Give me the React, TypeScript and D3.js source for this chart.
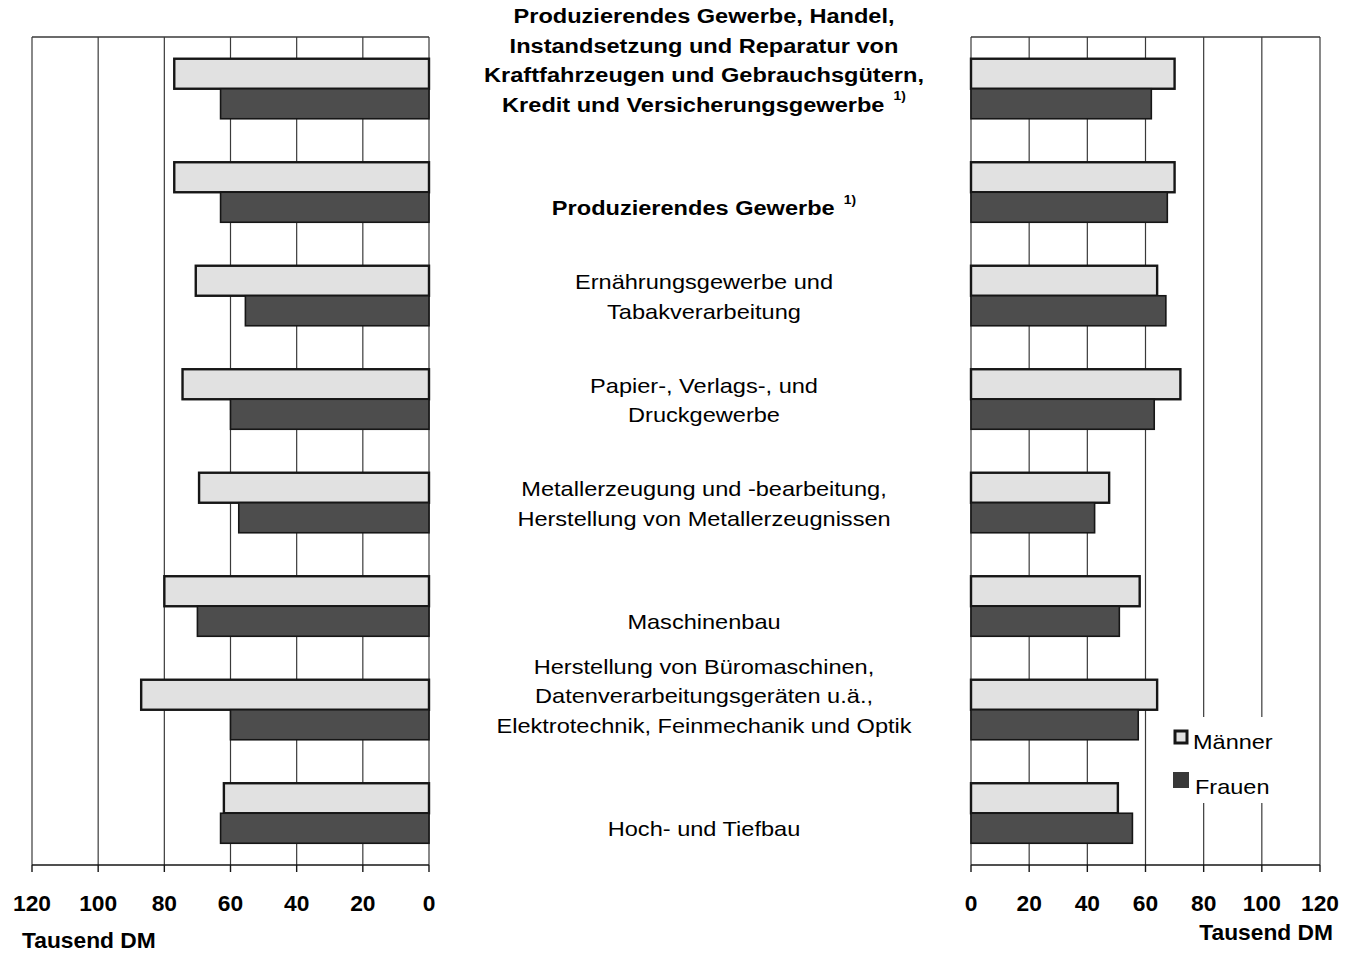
import * as d3 from 'd3';

// Category labels (centre column), one entry per bar group
const categories: string[][] = [
  [
    'Produzierendes Gewerbe, Handel,',
    'Instandsetzung und Reparatur von',
    'Kraftfahrzeugen und Gebrauchsgütern,',
    'Kredit und Versicherungsgewerbe',
  ],
  ['Produzierendes Gewerbe'],
  ['Ernährungsgewerbe und', 'Tabakverarbeitung'],
  ['Papier-, Verlags-, und', 'Druckgewerbe'],
  ['Metallerzeugung und -bearbeitung,', 'Herstellung von Metallerzeugnissen'],
  ['Maschinenbau'],
  ['Herstellung von Büromaschinen,', 'Datenverarbeitungsgeräten u.ä.,', 'Elektrotechnik, Feinmechanik und Optik'],
  ['Hoch- und Tiefbau'],
];
const boldLabel = [true, true, false, false, false, false, false, false];
const footnote = [true, true, false, false, false, false, false, false];

// Tausend DM, left panel
const leftMen = [77, 77, 70.5, 74.5, 69.5, 80, 87, 62];
const leftWomen = [63, 63, 55.5, 60, 57.5, 70, 60, 63];
// Tausend DM, right panel
const rightMen = [70, 70, 64, 72, 47.5, 58, 64, 50.5];
const rightWomen = [62, 67.5, 67, 63, 42.5, 51, 57.5, 55.5];

const ticks = [0, 20, 40, 60, 80, 100, 120];
const seriesNames = ['Männer', 'Frauen'];

const W = 1348;
const H = 955;
const TOP = 37;
const BOTTOM = 865;
const FONT = '"Liberation Sans", Arial, sans-serif';
const MEN_FILL = '#e1e1e1';
const WOMEN_FILL = '#4d4d4d';
const INK = '#161616';
const GRID = '#3a3a3a';

const y = d3
  .scaleBand<number>()
  .domain(d3.range(categories.length))
  .range([TOP, BOTTOM])
  .paddingInner(0.42)
  .paddingOuter(0.21);
const bh = y.bandwidth() / 2;

const xL = d3.scaleLinear().domain([0, 120]).range([429, 32]);
const xR = d3.scaleLinear().domain([0, 120]).range([971, 1320]);

// the scanned original is slightly stretched sideways
const stretch = (x: number, yy: number, sx: number) => `translate(${x},${yy}) scale(${sx},1)`;

function Panel({
  x,
  men,
  women,
}: {
  x: d3.ScaleLinear<number, number>;
  men: number[];
  women: number[];
}) {
  const [a, b] = x.range();
  const x0 = Math.min(a, b);
  const x1 = Math.max(a, b);
  return (
    <g>
      {/* frame and grid */}
      <line x1={x0} x2={x1} y1={TOP} y2={TOP} stroke={GRID} strokeWidth={1.3} />
      {ticks.map((t) => (
        <line key={t} x1={x(t)} x2={x(t)} y1={TOP} y2={BOTTOM} stroke={GRID} strokeWidth={1.2} />
      ))}

      {/* bars */}
      {men.map((v, i) => {
        const xa = x(0);
        const xb = x(v);
        return (
          <g key={i}>
            <rect
              x={Math.min(xa, xb)}
              y={y(i)!}
              width={Math.abs(xb - xa)}
              height={bh}
              fill={MEN_FILL}
              stroke={INK}
              strokeWidth={2.4}
            />
            <rect
              x={Math.min(xa, x(women[i]))}
              y={y(i)! + bh}
              width={Math.abs(x(women[i]) - xa)}
              height={bh}
              fill={WOMEN_FILL}
              stroke={INK}
              strokeWidth={1.6}
            />
          </g>
        );
      })}

      {/* bottom axis */}
      <line x1={x0} x2={x1} y1={BOTTOM} y2={BOTTOM} stroke={INK} strokeWidth={1.4} />
      {ticks.map((t) => (
        <g key={t}>
          <line x1={x(t)} x2={x(t)} y1={BOTTOM} y2={BOTTOM + 7} stroke={INK} strokeWidth={1.4} />
          <text
            transform={stretch(x(t), 911, 1.06)}
            textAnchor="middle"
            fontSize={21.5}
            fontWeight="bold"
            fill="#000"
          >
            {t}
          </text>
        </g>
      ))}
    </g>
  );
}

function CategoryLabels() {
  const cx = 704;
  const lh = 29.5;
  return (
    <g>
      {categories.map((lines, i) => {
        const center = y(i)! + y.bandwidth() / 2;
        // label blocks sit with their last line a little below the group centre
        const last = center + 16;
        const first = last - (lines.length - 1) * lh;
        return (
          <g key={i}>
            {lines.map((ln, j) => (
              <text
                key={j}
                transform={stretch(cx, first + j * lh, 1.15)}
                dominantBaseline="central"
                textAnchor="middle"
                fontSize={20.5}
                fontWeight={boldLabel[i] ? 'bold' : 'normal'}
                fill="#000"
              >
                {ln}
                {footnote[i] && j === lines.length - 1 && (
                  <tspan fontSize={12} dy={-9} dx={8}>
                    1)
                  </tspan>
                )}
              </text>
            ))}
          </g>
        );
      })}
    </g>
  );
}

function Legend() {
  return (
    <g>
      <rect x={1164} y={717} width={128} height={86} fill="#fff" />
      <rect x={1175} y={731} width={12} height={12} fill={MEN_FILL} stroke={INK} strokeWidth={3} />
      <text transform={stretch(1193, 742, 1.12)} dominantBaseline="central" fontSize={21} fill="#000">
        {seriesNames[0]}
      </text>
      <rect x={1173} y={772} width={16} height={16} fill="#383838" />
      <text transform={stretch(1195, 787, 1.12)} dominantBaseline="central" fontSize={21} fill="#000">
        {seriesNames[1]}
      </text>
    </g>
  );
}

export default function App() {
  return (
    <svg
      width={W}
      height={H}
      viewBox={`0 0 ${W} ${H}`}
      style={{ position: 'absolute', left: 0, top: 0, background: '#fff' }}
      fontFamily={FONT}
    >
      <rect width={W} height={H} fill="#fff" />
      <Panel x={xL} men={leftMen} women={leftWomen} />
      <Panel x={xR} men={rightMen} women={rightWomen} />
      <CategoryLabels />
      <Legend />
      <text transform={stretch(22, 948, 1.06)} fontSize={21.5} fontWeight="bold" fill="#000">
        Tausend DM
      </text>
      <text
        transform={stretch(1333, 940, 1.06)}
        textAnchor="end"
        fontSize={21.5}
        fontWeight="bold"
        fill="#000"
      >
        Tausend DM
      </text>
    </svg>
  );
}
